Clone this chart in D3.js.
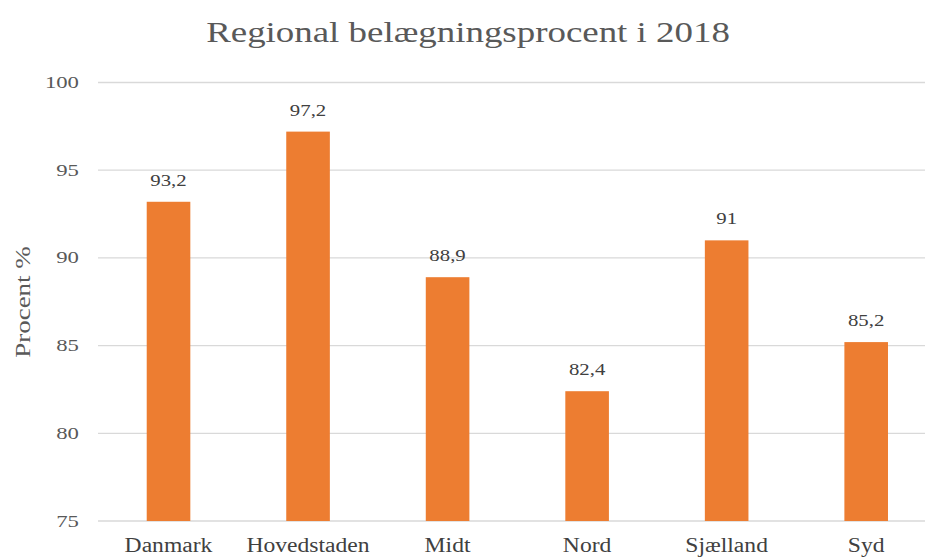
<!DOCTYPE html>
<html><head><meta charset="utf-8">
<script src="https://cdn.jsdelivr.net/npm/d3@7"></script>
<style>body{margin:0;background:#fff}svg{display:block}text{font-family:"Liberation Serif","DejaVu Serif",serif}</style>
</head><body>
<svg id="chart" width="925" height="557"></svg>
<script>
const categories = ["Danmark","Hovedstaden","Midt","Nord","Sjælland","Syd"];
const values = [93.2, 97.2, 88.9, 82.4, 91, 85.2];
const valueLabels = ["93,2","97,2","88,9","82,4","91","85,2"];
const yTicks = [75, 80, 85, 90, 95, 100];
const title = "Regional belægningsprocent i 2018";
const yTitle = "Procent %";

const svg = d3.select("#chart");
const x = d3.scaleBand().domain(categories).range([98.75, 935.95]).paddingInner(0.6875).paddingOuter(0.34375);
const y = d3.scaleLinear().domain([75, 100]).range([521, 82.5]);

function widen(sel, f) {
  sel.each(function() {
    const w = this.getComputedTextLength();
    d3.select(this).attr("textLength", w * f).attr("lengthAdjust", "spacingAndGlyphs");
  });
}

svg.append("g").selectAll("line").data(yTicks).join("line")
  .attr("x1", 98).attr("x2", 925)
  .attr("y1", d => y(d)).attr("y2", d => y(d))
  .attr("stroke", "#d9d9d9").attr("stroke-width", 1.3);

svg.append("g").selectAll("text").data(yTicks).join("text")
  .attr("x", 79).attr("y", d => y(d) + 5.5)
  .attr("text-anchor", "end").attr("font-size", 16).attr("fill", "#595959")
  .text(d => d).call(widen, 1.42);

svg.append("g").selectAll("rect").data(values).join("rect")
  .attr("x", (d, i) => x(categories[i]))
  .attr("width", x.bandwidth())
  .attr("y", d => y(d))
  .attr("height", d => y(75) - y(d))
  .attr("fill", "#ED7D31");

svg.append("g").selectAll("text").data(values).join("text")
  .attr("x", (d, i) => x(categories[i]) + x.bandwidth() / 2)
  .attr("y", d => y(d) - 16)
  .attr("text-anchor", "middle").attr("font-size", 16).attr("fill", "#404040")
  .text((d, i) => valueLabels[i]).call(widen, 1.3);

svg.append("g").selectAll("text").data(categories).join("text")
  .attr("x", d => x(d) + x.bandwidth() / 2)
  .attr("y", 552)
  .attr("text-anchor", "middle").attr("font-size", 20).attr("fill", "#404040")
  .text(d => d).call(widen, 1.18);

svg.append("text").attr("x", 468).attr("y", 42).attr("text-anchor", "middle")
  .attr("font-size", 30).attr("fill", "#595959").text(title).call(widen, 1.23);

svg.append("text").attr("transform", "translate(30,302) rotate(-90)")
  .attr("text-anchor", "middle").attr("font-size", 20).attr("fill", "#595959").text(yTitle).call(widen, 1.35);
</script>
</body></html>
